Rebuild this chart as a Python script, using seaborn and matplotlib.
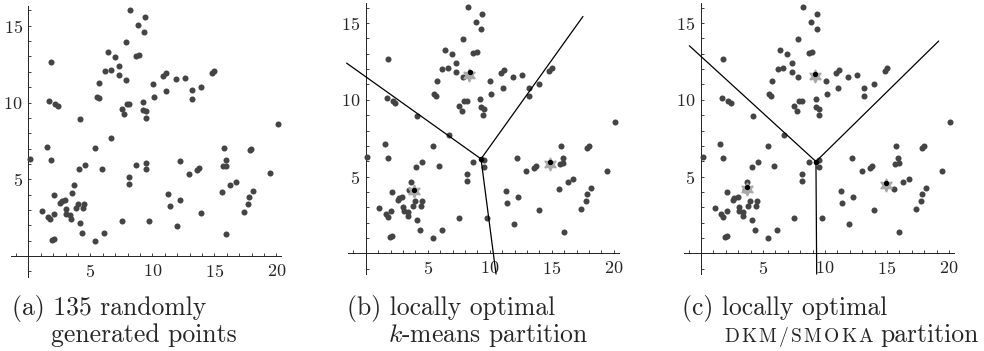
import pandas as pd
import seaborn as sns
import matplotlib.pyplot as plt
from matplotlib.ticker import FixedLocator, MultipleLocator

# 135 random points (some overlap)
pts_x = [8.24, 9.38, 8.86, 9.32, 7.84, 6.41, 6.97, 8.68, 8.95, 7.30, 1.81, 6.19, 6.65,
         7.32, 7.86, 5.73, 5.51, 5.68, 7.92, 8.16, 7.54, 7.73, 9.24, 9.27, 9.51, 9.49,
         10.05, 10.14, 1.70, 2.19, 2.38, 4.16, 6.68,
         10.89, 11.13, 11.08, 11.88, 12.61, 13.17, 13.17, 13.95, 14.81, 15.00, 20.10,
         0.14, 1.54, 1.81, 5.41, 4.57, 4.08, 5.92, 8.14, 8.16, 8.68, 9.51, 9.51, 3.68,
         3.51, 2.11, 2.68, 2.95, 2.57, 3.97, 3.83, 4.51, 4.43, 3.03, 3.05, 3.38, 3.41,
         1.11, 1.62, 1.78, 2.08, 4.14, 4.35, 1.95, 2.11, 5.41, 6.14, 7.54, 9.76,
         15.75, 17.85, 17.98, 15.91, 15.67, 15.94, 12.20, 12.96, 13.60, 13.76, 19.46,
         11.29, 12.26, 11.40, 13.95, 11.96, 15.59, 16.29, 16.75, 18.15, 17.82, 17.74,
         17.37, 15.97]
pts_y = [16.02, 15.59, 15.04, 14.61, 13.96, 13.26, 12.98, 13.04, 13.11, 12.37, 12.65, 12.02, 12.09,
         11.78, 11.46, 11.24, 10.37, 10.28, 9.89, 9.91, 9.57, 9.26, 10.04, 9.54, 9.43, 8.98,
         11.20, 10.37, 10.11, 9.89, 9.78, 8.93, 7.70,
         11.72, 11.93, 10.78, 11.50, 11.61, 10.80, 10.22, 11.04, 11.89, 12.07, 8.57,
         6.30, 7.10, 6.23, 7.01, 5.93, 5.65, 5.69, 4.72, 5.15, 5.93, 6.08, 5.65, 4.63,
         4.11, 3.98, 3.59, 3.66, 3.46, 3.42, 3.10, 3.40, 3.10, 3.03, 2.73, 2.66, 2.42,
         2.92, 2.55, 2.38, 2.75, 2.16, 1.49, 1.04, 1.13, 0.97, 1.49, 2.27, 2.27,
         7.01, 6.88, 6.97, 6.23, 5.84, 5.89, 6.19, 5.37, 5.58, 5.71, 5.39,
         4.03, 3.68, 3.27, 2.79, 1.93, 4.20, 4.65, 4.81, 4.24, 3.87, 3.42,
         2.88, 1.41]

# k-means partition: centers, previous centers, boundary vertex and ray ends
km_star_x = [8.36, 3.91, 14.90]
km_star_y = [11.60, 4.05, 5.85]
km_dot_x = [8.44, 3.91, 14.90]
km_dot_y = [11.78, 4.11, 5.96]
km_vertex = (9.30, 6.15)
km_ends_x = [-1.54, 17.52, 10.51]
km_ends_y = [12.39, 15.43, -1.35]

# DKM/SMOKA partition
dk_star_x = [9.19, 3.74, 14.89]
dk_star_y = [11.57, 4.17, 4.46]
dk_dot_x = [9.19, 3.74, 14.89]
dk_dot_y = [11.70, 4.35, 4.61]
dk_vertex = (9.27, 5.98)
dk_ends_x = [-0.94, 19.17, 9.33]
dk_ends_y = [13.52, 13.83, -1.35]

x_ticks = [5, 10, 15, 20]
y_ticks = [5, 10, 15]

sns.set_style("white")
plt.rcParams["font.family"] = ["cmr10", "DejaVu Serif"]
plt.rcParams["mathtext.fontset"] = "cm"
plt.rcParams["axes.unicode_minus"] = False
plt.rcParams["axes.formatter.use_mathtext"] = True

df = pd.DataFrame({"x": pts_x, "y": pts_y})

W, H = 984, 351
fig = plt.figure(figsize=(W / 100, H / 100), dpi=100)

XLIM = (-1.4, 20.4)
YLIM = (-1.35, 16.3)
PX, PY = 12.4, 15.35  # pixels per data unit


def make_axes(ox, oy):
    left = ox + XLIM[0] * PX
    bottom = H - (oy - YLIM[0] * PY)
    w = (XLIM[1] - XLIM[0]) * PX
    h = (YLIM[1] - YLIM[0]) * PY
    ax = fig.add_axes([left / W, bottom / H, w / W, h / H])
    ax.set_xlim(*XLIM)
    ax.set_ylim(*YLIM)
    ax.patch.set_alpha(0)
    for s in ["top", "right"]:
        ax.spines[s].set_visible(False)
    for s in ["left", "bottom"]:
        ax.spines[s].set_position(("data", 0))
        ax.spines[s].set_linewidth(0.7)
        ax.spines[s].set_color("#222222")
    ax.xaxis.set_major_locator(FixedLocator(x_ticks))
    ax.yaxis.set_major_locator(FixedLocator(y_ticks))
    ax.xaxis.set_minor_locator(MultipleLocator(1))
    ax.yaxis.set_minor_locator(MultipleLocator(1))
    ax.tick_params(which="both", direction="in", length=2, width=0.6,
                   color="#222222", labelsize=13, bottom=True, left=True)
    ax.tick_params(axis="x", pad=5)
    ax.tick_params(axis="y", pad=4)
    return ax


def draw_points(ax):
    sns.scatterplot(data=df, x="x", y="y", ax=ax, s=19, color="#444444",
                    linewidth=0, clip_on=False, zorder=3)
    ax.set_xlabel("")
    ax.set_ylabel("")


def draw_partition(ax, vertex, ends_x, ends_y, star_x, star_y, dot_x, dot_y):
    for ex, ey in zip(ends_x, ends_y):
        ax.plot([vertex[0], ex], [vertex[1], ey], color="black", lw=0.9,
                clip_on=False, zorder=4)
    ax.plot(star_x, star_y, ls="none", marker=(6, 1, 0), ms=9.5,
            color="#a8a8a8", mec="#a8a8a8", zorder=5)
    ax.plot(dot_x, dot_y, ls="none", marker="o", ms=2.8, color="black", zorder=6)
    ax.plot([vertex[0]], [vertex[1]], ls="none", marker="o", ms=3,
            color="black", zorder=6)


ax_a = make_axes(28.3, 256.0)
draw_points(ax_a)

ax_b = make_axes(365.7, 253.3)
draw_points(ax_b)
draw_partition(ax_b, km_vertex, km_ends_x, km_ends_y,
               km_star_x, km_star_y, km_dot_x, km_dot_y)

ax_c = make_axes(701.0, 253.3)
draw_points(ax_c)
draw_partition(ax_c, dk_vertex, dk_ends_x, dk_ends_y,
               dk_star_x, dk_star_y, dk_dot_x, dk_dot_y)

# captions
cap = 18.5
b1, b2 = 315.0, 341.7
fig.text(11.7 / W, 1 - b1 / H, "(a) 135 randomly", fontsize=cap, va="baseline")
fig.text(50.7 / W, 1 - b2 / H, "generated points", fontsize=cap, va="baseline")
fig.text(347.3 / W, 1 - b1 / H, "(b) locally optimal", fontsize=cap, va="baseline")
fig.text(388.3 / W, 1 - b2 / H, r"$k$-means partition", fontsize=cap, va="baseline")
fig.text(682.3 / W, 1 - b1 / H, "(c) locally optimal", fontsize=cap, va="baseline")

# small caps imitation: letters spaced out a little
fig.canvas.draw()
renderer = fig.canvas.get_renderer()
xpos = 724.0
for ch in "DKM/SMOKA":
    t = fig.text(xpos / W, 1 - b2 / H, ch, fontsize=14, va="baseline")
    xpos = t.get_window_extent(renderer).x1 + 2.2
fig.text((xpos + 5) / W, 1 - b2 / H, "partition", fontsize=cap, va="baseline")

fig.savefig("out.png", dpi=100)
